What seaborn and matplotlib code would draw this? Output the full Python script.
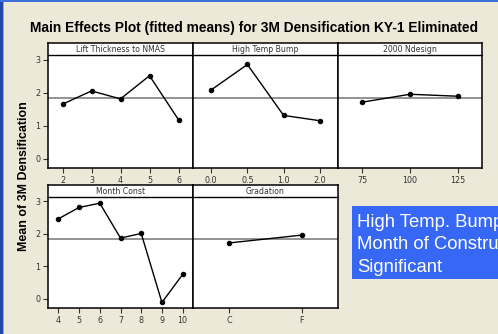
import matplotlib
matplotlib.use("Agg")
import matplotlib.pyplot as plt
from matplotlib.patches import Rectangle
import seaborn as sns
import pandas as pd

sns.set_style("white")
plt.rcParams["font.family"] = ["DejaVu Sans"]

# Fitted means for each factor level
lift_levels = ["2", "3", "4", "5", "6"]
lift_means = [1.65, 2.05, 1.81, 2.51, 1.18]
bump_levels = ["0.0", "0.5", "1.0", "2.0"]
bump_means = [2.08, 2.85, 1.31, 1.15]
ndesign_levels = ["75", "100", "125"]
ndesign_means = [1.71, 1.95, 1.89]
month_levels = ["4", "5", "6", "7", "8", "9", "10"]
month_means = [2.46, 2.81, 2.94, 1.87, 2.01, -0.11, 0.75]
grad_levels = ["C", "F"]
grad_means = [1.72, 1.96]
overall_mean = 1.83
y_ticks = [0, 1, 2, 3]
note_lines = ["High Temp. Bump and", "Month of Construction", "Significant"]

W, H = 498, 334
BG = "#ECE9D8"
fig = plt.figure(figsize=(W / 100, H / 100), dpi=100, facecolor=BG)


def px_axes(l, t, r, b):
    return fig.add_axes([l / W, 1 - b / H, (r - l) / W, (b - t) / H])


panels = [
    ("Lift Thickness to NMAS", lift_levels, lift_means, (48, 43, 193, 168), True),
    ("High Temp Bump", bump_levels, bump_means, (193, 43, 338, 168), False),
    ("2000 Ndesign", ndesign_levels, ndesign_means, (338, 43, 482, 168), False),
    ("Month Const", month_levels, month_means, (48, 185, 193, 308), True),
    ("Gradation", grad_levels, grad_means, (193, 185, 338, 308), False),
]

for name, levels, means, box, show_y in panels:
    ax = px_axes(*box)
    ax.set_facecolor("white")
    df = pd.DataFrame({"level": levels, "mean": means})
    ax.axhline(overall_mean, color="#8a8a8a", lw=1.3, zorder=1)
    sns.pointplot(data=df, x="level", y="mean", order=levels, ax=ax,
                  color="black", markers="o", markersize=3.2, linewidth=1.0,
                  errorbar=None)
    ax.set_xlim(-0.5, len(levels) - 0.5)
    ax.set_ylim(-0.28, 3.5)
    ax.set_xlabel("")
    ax.set_ylabel("")
    ax.set_yticks(y_ticks)
    ax.tick_params(axis="both", direction="out", length=3.5, width=0.8,
                   color="#333333", labelsize=5.8, labelcolor="#333333", pad=2)
    ax.tick_params(axis="x", bottom=True)
    if show_y:
        ax.tick_params(axis="y", left=True)
    else:
        ax.tick_params(axis="y", left=False, labelleft=False)
    for sp in ax.spines.values():
        sp.set_color("black")
        sp.set_linewidth(1.1)
    # strip header
    height_px = box[3] - box[1]
    f = 12 / height_px
    ax.plot([0, 1], [1 - f, 1 - f], transform=ax.transAxes, color="black",
            lw=1.0, clip_on=False, zorder=5)
    ax.text(0.5, 1 - f / 2, name, transform=ax.transAxes, ha="center",
            va="center", fontsize=5.6, color="#333333")

fig.text(254 / W, 1 - 31.7 / H, "Main Effects Plot (fitted means) for 3M Densification KY-1 Eliminated",
         ha="center", va="baseline", fontsize=9.9, fontweight="bold", color="black",
         family="Liberation Sans")
fig.text(24 / W, 1 - 176 / H, "Mean of 3M Densification", rotation=90,
         ha="center", va="center", fontsize=8.9, fontweight="bold", color="black",
         family="Liberation Sans")

# annotation box
note_box = Rectangle((352 / W, 1 - 279 / H), (W - 352) / W, 73 / H,
                     transform=fig.transFigure, facecolor="#3768F5",
                     edgecolor="none", zorder=0)
fig.patches.append(note_box)
for line, base in zip(note_lines, [226.7, 249.3, 272.0]):
    t = fig.text(357 / W, 1 - base / H, line, ha="left", va="baseline",
                 fontsize=13.3, color="white", family="Liberation Sans")
    t.set_clip_path(note_box)

# window frame edges
fig.patches.append(Rectangle((0, 0), 3 / W, 1, transform=fig.transFigure,
                             facecolor="#2448A8", edgecolor="none"))
fig.patches.append(Rectangle((3 / W, 0), 1 / W, 1, transform=fig.transFigure,
                             facecolor="#8FA8E0", edgecolor="none"))
fig.patches.append(Rectangle((0, 1 - 2 / H), 1, 2 / H, transform=fig.transFigure,
                             facecolor="#3F6FD8", edgecolor="none"))

fig.savefig("out.png", dpi=100, facecolor=BG)
